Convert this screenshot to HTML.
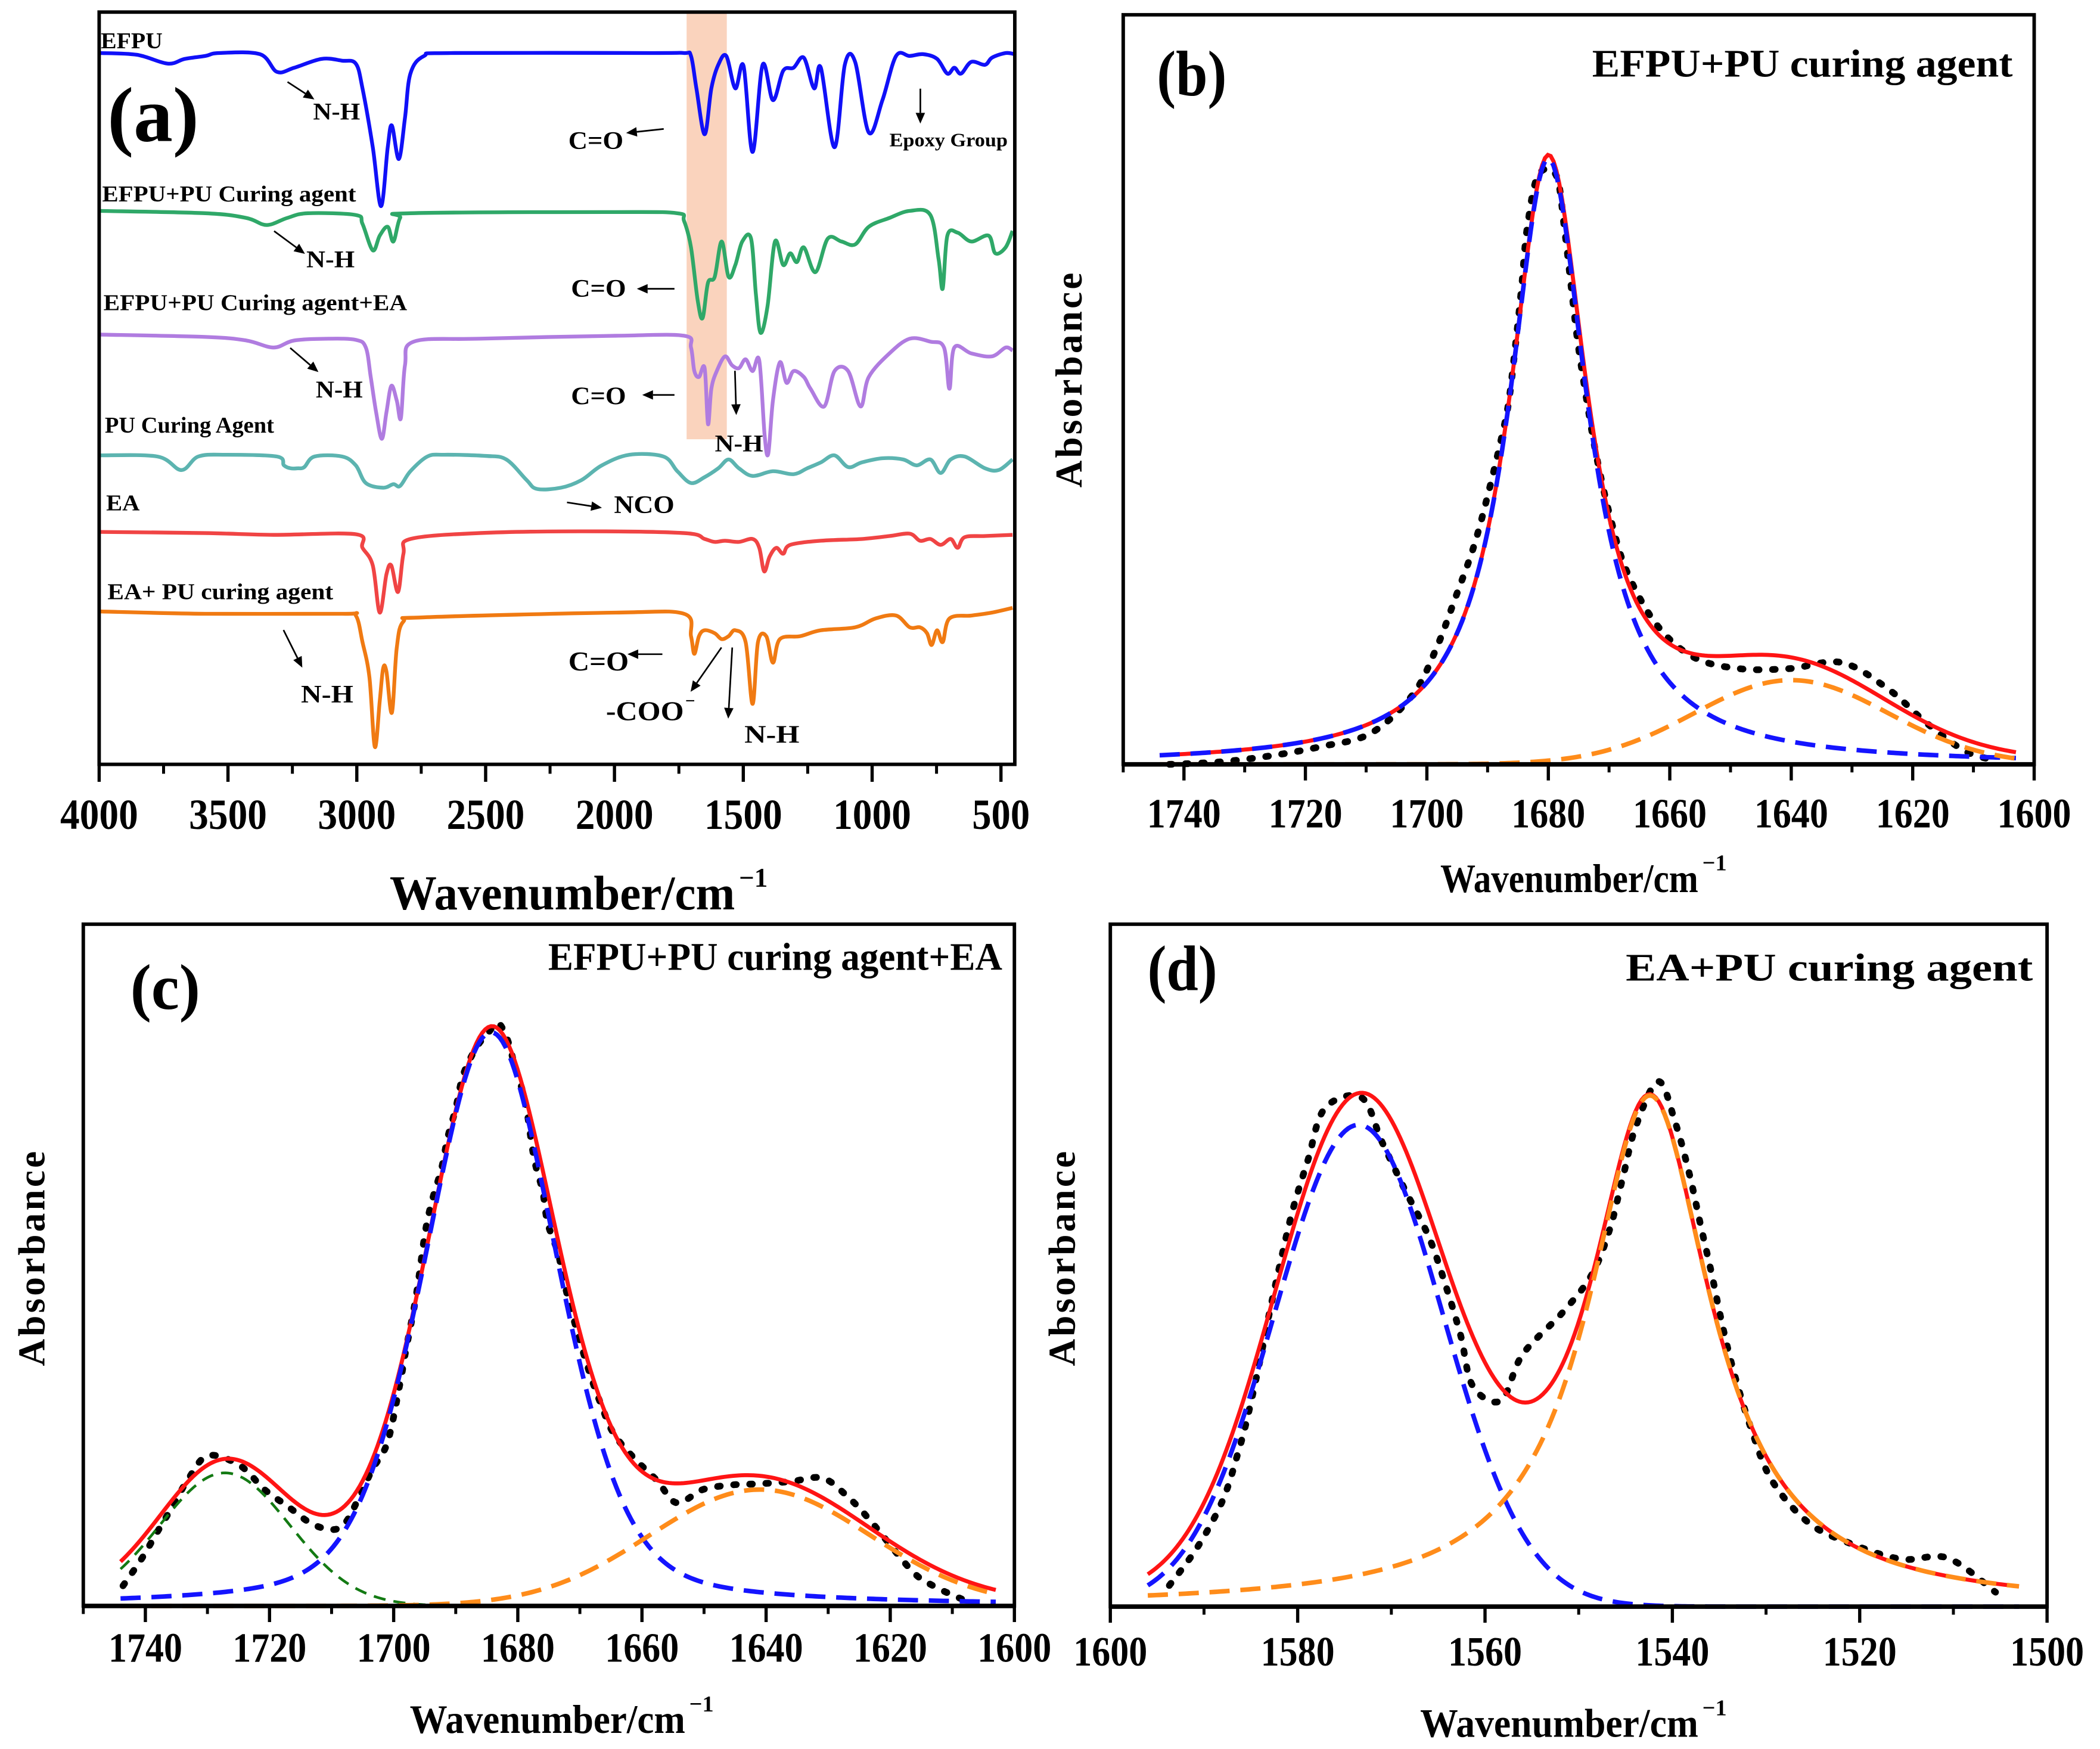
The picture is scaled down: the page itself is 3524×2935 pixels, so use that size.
<!DOCTYPE html>
<html><head><meta charset="utf-8">
<style>
html,body{margin:0;padding:0;background:#fff;}
svg{display:block}
text{font-family:"Liberation Serif","Times New Roman",serif;font-weight:bold;fill:#000}
</style></head>
<body>
<svg id="fig" xmlns="http://www.w3.org/2000/svg" width="3524" height="2935" viewBox="0 0 1563 1302" preserveAspectRatio="none"></svg>
<script>
// ---------- Panel (a) data: wavenumber (cm-1) and offset transmittance (a.u.) ----------
const efpuWn=[4000,3854,3734,3668,3588,3535,3376,3310,3243,3137,3057,3004,2978,2938,2906,2880,2864,2837,2813,2792,2739,2633,1863,1730,1703,1682,1650,1624,1597,1566,1531,1499,1464,1425,1385,1345,1305,1265,1225,1199,1146,1106,1066,1013,960,907,854,801,748,708,681,655,615,562,535,482,447];
const efpuT=[1210,1207,1192,1200,1205,1210,1208,1178,1185,1200,1197,1192,1150,1050,950,1050,1087,1030,1100,1175,1205,1210,1210,1210,1205,1150,1072,1150,1190,1205,1150,1188,1042,1190,1130,1180,1185,1202,1150,1185,1050,1190,1195,1075,1130,1205,1205,1208,1200,1175,1185,1175,1195,1190,1202,1210,1208];
const efpuPuWn=[4000,3588,3429,3350,3270,3190,3004,2978,2938,2911,2880,2858,2832,2792,1995,1756,1730,1703,1677,1658,1637,1611,1584,1557,1531,1504,1470,1451,1433,1406,1377,1345,1318,1292,1265,1220,1172,1119,1066,1013,933,854,774,742,726,708,668,615,548,522,482,455];
const efpuPuT=[942,938,930,918,930,938,935,920,875,900,915,890,930,938,940,938,925,880,790,760,820,830,890,830,850,890,895,800,735,780,890,850,870,855,880,838,895,890,885,915,930,942,935,860,810,900,905,890,900,870,880,908];
const efpuPuEaWn=[4000,3588,3429,3323,3243,3111,3004,2965,2946,2925,2903,2885,2866,2845,2829,2813,2779,2526,1995,1730,1703,1690,1672,1650,1637,1624,1603,1571,1544,1517,1491,1464,1438,1417,1403,1385,1358,1332,1305,1265,1239,1186,1146,1093,1045,1013,933,854,774,721,700,681,615,535,482,455];
const efpuPuEaT=[732,728,722,710,722,725,723,710,660,600,555,600,645,620,590,680,720,725,730,730,710,670,660,675,580,640,670,695,680,675,690,670,688,560,530,620,685,650,670,660,640,610,670,670,610,660,700,725,720,710,640,710,700,695,710,705];
const puWn=[4000,3774,3681,3615,3509,3310,3283,3257,3230,3204,3164,3057,3004,2965,2898,2858,2832,2792,2726,2659,2500,2420,2341,2301,2208,2128,2049,1942,1810,1756,1703,1650,1597,1557,1517,1464,1385,1305,1252,1199,1146,1093,1040,960,880,827,774,734,695,641,562,509,455];
const puT=[527,525,502,525,528,525,510,505,505,507,525,525,510,480,472,478,475,500,525,528,526,520,485,470,472,485,510,528,525,500,480,490,505,520,505,492,500,495,505,515,527,507,515,522,520,510,520,497,520,525,505,502,520];
const eaWn=[4000,3588,3323,3004,2978,2938,2911,2885,2866,2840,2819,2792,2526,2128,1730,1650,1611,1571,1517,1464,1438,1419,1398,1372,1345,1318,1199,1040,933,854,814,774,734,695,668,641,562,455];
const eaT=[397,395,392,393,370,340,260,325,340,295,360,385,395,398,395,385,380,382,380,385,370,330,355,370,360,375,382,385,390,394,382,385,375,385,370,388,390,392];
const eaPuWn=[4000,3588,3057,3004,2978,2951,2930,2911,2898,2885,2864,2845,2819,2739,1995,1730,1703,1690,1672,1650,1611,1584,1557,1531,1491,1464,1443,1411,1385,1358,1279,1199,1066,987,907,854,814,787,769,748,726,700,615,535,455];
const eaPuT=[262,258,258,255,210,150,32,110,165,160,90,200,245,252,260,258,220,190,220,230,225,215,220,230,210,105,210,220,175,215,220,230,235,250,255,235,235,225,205,230,210,250,255,260,268];
const aTickLabels=[4000,3500,3000,2500,2000,1500,1000,500];
const aMinorTicks=[3750,3250,2750,2250,1750,1250,750];

// ---------- Panel (b) ----------
const bPeakCenters=[1680,1640];
const bPeakHeights=[1.0,0.139];
const bPeakFwhm=[15.8,37.7];
const bPeakEta=[1,0];
const bExpWn=[1742.4,1734.1,1725.8,1717.6,1709.3,1702.4,1698.5,1695.3,1692.2,1689.7,1687.6,1686.5,1685.4,1684.4,1683.5,1681.7,1678.7,1677.3,1676.2,1675.1,1673.6,1672,1669.8,1667.1,1662.2,1656.1,1648.6,1640.3,1631.7,1624,1617.7,1611.4,1606.6];
const bExpAbs=[0.0,0.004,0.014,0.029,0.051,0.114,0.19,0.275,0.362,0.455,0.544,0.60,0.693,0.788,0.884,0.972,0.972,0.88,0.785,0.693,0.596,0.505,0.408,0.319,0.231,0.177,0.158,0.158,0.168,0.124,0.068,0.022,0.007];
const bTickLabels=[1740,1720,1700,1680,1660,1640,1620,1600];

// ---------- Panel (c) ----------
const cPeakCenters=[1727.2,1684.3,1641];
const cPeakHeights=[0.231,0.996,0.202];
const cPeakFwhm=[24.7,25.4,41.9];
const cPeakEta=[0,0.3,0];
const cExpWn=[1743.6,1740.6,1738.1,1735.5,1733.0,1729.9,1724.8,1720.8,1717.2,1712.7,1708.6,1705.8,1703.5,1701.0,1699.0,1698.1,1696.4,1694.9,1693.7,1692.3,1691.3,1690.0,1688.8,1686.7,1684.7,1683.2,1681.7,1680.4,1678.8,1677.4,1676.0,1675.2,1673.5,1672.5,1670.3,1668.2,1666.6,1664.6,1661.3,1657.6,1654.4,1650.2,1645.6,1641.2,1636.0,1630.9,1626.8,1623.2,1616.6,1613.1,1608.5];
const cExpAbs=[0.035,0.082,0.128,0.175,0.222,0.261,0.244,0.202,0.174,0.140,0.136,0.183,0.236,0.284,0.385,0.44,0.537,0.65,0.708,0.759,0.813,0.864,0.922,0.969,0.996,1.012,0.984,0.934,0.875,0.778,0.72,0.665,0.612,0.56,0.471,0.397,0.35,0.30,0.257,0.218,0.179,0.202,0.21,0.212,0.216,0.222,0.189,0.148,0.062,0.035,0.012];
const cTickLabels=[1740,1720,1700,1680,1660,1640,1620,1600];

// ---------- Panel (d) ----------
const dPeakCenters=[1573.5,1542.4];
const dPeakHeights=[0.933,0.99];
const dPeakFwhm=[21.2,16];
const dPeakEta=[0,1];
const dExpWn=[1593.7,1590.7,1588.0,1586.3,1585.3,1584.1,1583.0,1581.8,1580.5,1578.9,1577.1,1573.2,1571.0,1568.6,1566.0,1564.2,1562.6,1561.3,1558.3,1556.0,1551.7,1548.6,1546.7,1545.3,1543.9,1541.5,1539.7,1538.2,1537.0,1535.8,1534.6,1533.3,1531.6,1529.4,1525.5,1521.1,1515.6,1510.6,1505.5];
const dExpAbs=[0.041,0.115,0.206,0.302,0.371,0.470,0.57,0.67,0.77,0.865,0.965,0.986,0.90,0.809,0.716,0.622,0.525,0.427,0.399,0.488,0.57,0.643,0.73,0.83,0.93,1.017,0.938,0.839,0.74,0.644,0.54,0.445,0.345,0.245,0.163,0.123,0.092,0.094,0.028];
const dTickLabels=[1600,1580,1560,1540,1520,1500];

const NS='http://www.w3.org/2000/svg';
const svg=document.getElementById('fig');
function mk(tag,attrs,parent){const e=document.createElementNS(NS,tag);for(const k in attrs)e.setAttribute(k,attrs[k]);(parent||svg).appendChild(e);return e;}
function txt(str,attrs,parent){const e=mk('text',attrs,parent);e.textContent=str;return e;}
function pathFrom(xs,ys,fx,fy){let d='';const n=Math.min(xs.length,ys.length);for(let i=0;i<n;i++){d+=(i?'L':'M')+fx(xs[i]).toFixed(2)+' '+fy(ys[i]).toFixed(2);}return d;}
function smoothFrom(xs,ys,fx,fy){
 const n=Math.min(xs.length,ys.length);const P=[];for(let i=0;i<n;i++)P.push([fx(xs[i]),fy(ys[i])]);
 let d='M'+P[0][0].toFixed(2)+' '+P[0][1].toFixed(2);
 for(let i=0;i<n-1;i++){const p0=P[Math.max(0,i-1)],p1=P[i],p2=P[i+1],p3=P[Math.min(n-1,i+2)];
  const c1x=p1[0]+(p2[0]-p0[0])/6,c1y=p1[1]+(p2[1]-p0[1])/6,c2x=p2[0]-(p3[0]-p1[0])/6,c2y=p2[1]-(p3[1]-p1[1])/6;
  d+='C'+c1x.toFixed(2)+' '+c1y.toFixed(2)+' '+c2x.toFixed(2)+' '+c2y.toFixed(2)+' '+p2[0].toFixed(2)+' '+p2[1].toFixed(2);}
 return d;}
function pv(x,c,h,f,eta){const dx=x-c;const L=1/(1+Math.pow(dx/(f/2),2));const G=Math.exp(-4*Math.LN2*dx*dx/(f*f));return h*(eta*L+(1-eta)*G);}

// ================= Panel (a) =================
const xA=wn=>73.8+(4000-wn)*0.19177;
const yA=T=>(1300-T)*0.4385;
const gA=mk('g',{});


const shade=mk('rect',{x:xA(1720),y:9,width:xA(1564)-xA(1720),height:318,fill:'#fad3bd'},gA);


const aSeries=[
 ['efpu-spectrum',efpuWn,efpuT,'#1010f8'],
 ['efpu-pu-spectrum',efpuPuWn,efpuPuT,'#2fa868'],
 ['efpu-pu-ea-spectrum',efpuPuEaWn,efpuPuEaT,'#b07ce0'],
 ['pu-curing-agent-spectrum',puWn,puT,'#5cb4b0'],
 ['ea-spectrum',eaWn,eaT,'#f04444'],
 ['ea-pu-spectrum',eaPuWn,eaPuT,'#f07a12']
];
aSeries.forEach(s=>{
 const p=mk('path',{d:smoothFrom(s[1],s[2],xA,yA),fill:'none',stroke:s[3],'stroke-width':2.8,'stroke-linejoin':'round'},gA);
 
 
});
const boxA=mk('rect',{x:73.8,y:9,width:681.5,height:560,fill:'none',stroke:'#000','stroke-width':2.6},gA);


aTickLabels.forEach(v=>{
 const t=mk('line',{x1:xA(v),x2:xA(v),y1:569,y2:582,stroke:'#000','stroke-width':2.4},gA);
 
 
 const l=txt(String(v),{x:xA(v),y:617,'text-anchor':'middle','font-size':32,textLength:v>=1000?58:43,lengthAdjust:'spacingAndGlyphs'},gA);
 
 
});
aMinorTicks.forEach(v=>{
 const t=mk('line',{x1:xA(v),x2:xA(v),y1:569,y2:576,stroke:'#000','stroke-width':2.2},gA);
 
 
});
const aTitle=txt('Wavenumber/cm',{x:290,y:677,'font-size':36,textLength:257,lengthAdjust:'spacingAndGlyphs'},gA);


const aSup=txt('\u22121',{x:550,y:660,'font-size':20},gA);


const aLab=txt('(a)',{x:80,y:105,'font-size':58,textLength:68,lengthAdjust:'spacingAndGlyphs'},gA);


const aNames=[['EFPU',75,36,46,'efpu-label'],['EFPU+PU Curing agent',76,150,189,'efpu-pu-label'],['EFPU+PU Curing agent+EA',77,231,226,'efpu-pu-ea-label'],['PU Curing Agent',78,322,126,'pu-curing-agent-label'],['EA',79,380,25,'ea-label'],['EA+ PU curing agent',80,446,168,'ea-pu-label']];
aNames.forEach(n=>{
 const e=txt(n[0],{x:n[1],y:n[2],'font-size':17,textLength:n[3],lengthAdjust:'spacingAndGlyphs'},gA);
 
 
});
const annos=[['N-H',233,89,35,18],['C=O',423,111,41,19],['Epoxy Group',662,109,88,14],['N-H',228,199,36,18],['C=O',425,221,41,19],['N-H',235,296,35,18],['C=O',425,301,41,19],['N-H',532,336,36,18],['NCO',457,382,45,19],['N-H',224,523,39,19],['C=O',423,499,45,20],['N-H',554,553,41,19]];
annos.forEach(n=>{
 const e=txt(n[0],{x:n[1],y:n[2],'font-size':n[4],textLength:n[3],lengthAdjust:'spacingAndGlyphs'},gA);
 
 
});
const coo=txt('-COO',{x:451,y:536,'font-size':20,textLength:58,lengthAdjust:'spacingAndGlyphs'},gA);


const cooSup=txt('\u2212',{x:510,y:526,'font-size':13},gA);


function arrow(x1,y1,x2,y2){
 const g=mk('g',{},gA);
 
 
 const ang=Math.atan2(y2-y1,x2-x1),L=8,W=3.5;
 const bx=x2-L*Math.cos(ang),by=y2-L*Math.sin(ang);
 mk('line',{x1:x1,y1:y1,x2:bx,y2:by,stroke:'#000','stroke-width':1.2},g);
 const px=-Math.sin(ang)*W,py=Math.cos(ang)*W;
 mk('polygon',{points:`${x2},${y2} ${bx+px},${by+py} ${bx-px},${by-py}`,fill:'#000'},g);
}
arrow(214,61,234,74);arrow(494,96,466,99);arrow(685,66,685,92);
arrow(204,172,227,189);arrow(502,215,474,215);
arrow(216,259,237,277);arrow(502,294,478,294);arrow(547,276,548,309);
arrow(422,374,448,378);
arrow(211,469,225,497);arrow(493,487,467,487);arrow(537,482,514,515);arrow(545,482,542,535);

// ================= Fit panels =================
function fitPanel(cfg){
 const g=mk('g',{});
 
 
 const fx=cfg.fx,fy=cfg.fy;
 const ex=mk('path',{d:smoothFrom(cfg.expWn,cfg.expAbs,fx,fy),fill:'none',stroke:'#000','stroke-width':5,'stroke-dasharray':'2 10','stroke-linecap':'round'},g);
 
 
 const n=Math.min(cfg.centers.length,cfg.heights.length,cfg.fwhm.length,cfg.eta.length);
 let dSum='';const comps=[];for(let k=0;k<n;k++)comps.push('');
 for(let i=0;i<=300;i++){
  const wn=cfg.from+(cfg.to-cfg.from)*i/300;let s=0;
  for(let k=0;k<n;k++){const v=pv(wn,cfg.centers[k],cfg.heights[k],cfg.fwhm[k],cfg.eta[k]);s+=v;comps[k]+=(i?'L':'M')+fx(wn).toFixed(2)+' '+fy(v).toFixed(2);}
  dSum+=(i?'L':'M')+fx(wn).toFixed(2)+' '+fy(s).toFixed(2);
 }
 const red=mk('path',{d:dSum,fill:'none',stroke:'#ff1414','stroke-width':3},g);
 
 
 for(let k=0;k<n;k++){
  const st=cfg.styles[k];
  const c=mk('path',{d:comps[k],fill:'none',stroke:st[0],'stroke-width':st[1],'stroke-dasharray':st[2]},g);
  
  
 }
 const box=mk('rect',{x:cfg.x0,y:cfg.top,width:cfg.x1-cfg.x0,height:cfg.base-cfg.top,fill:'none',stroke:'#000','stroke-width':2.6},g);
 
 
 const ax=mk('line',{x1:cfg.x0,x2:cfg.x1,y1:cfg.base,y2:cfg.base,stroke:'#000','stroke-width':3.4},g);
 
 
 cfg.ticks.forEach(v=>{
  const t=mk('line',{x1:fx(v),x2:fx(v),y1:cfg.base,y2:cfg.base+12,stroke:'#000','stroke-width':2.4},g);
  
  
  const l=txt(String(v),{x:fx(v),y:cfg.labelY,'text-anchor':'middle','font-size':31,textLength:55,lengthAdjust:'spacingAndGlyphs'},g);
  
  
 });
 cfg.ticks.forEach(v=>{
  const m=v+cfg.minorStep;
  if(m<=cfg.maxWn&&m>=cfg.minWn){
   const t=mk('line',{x1:fx(m),x2:fx(m),y1:cfg.base,y2:cfg.base+6,stroke:'#000','stroke-width':2.2},g);
   
   
  }
 });
 const ti=txt('Wavenumber/cm',{x:cfg.titleX,y:cfg.titleY,'font-size':30,textLength:cfg.titleW,lengthAdjust:'spacingAndGlyphs'},g);
 
 
 const su=txt('\u22121',{x:cfg.titleX+cfg.titleW+3,y:cfg.titleY-16,'font-size':17},g);
 
 
 const ab=txt('Absorbance',{x:0,y:0,'font-size':28,'text-anchor':'middle',textLength:160,lengthAdjust:'spacing',transform:`translate(${cfg.absX},${cfg.absY}) rotate(-90)`},g);
 
 
 const pl=txt(cfg.letter,{x:cfg.letterX,y:cfg.letterY,'font-size':48,textLength:52,lengthAdjust:'spacingAndGlyphs'},g);
 
 
 const pt=txt(cfg.title,{x:cfg.titleR,y:cfg.ptY,'font-size':29,'text-anchor':'end',textLength:cfg.ptW,lengthAdjust:'spacingAndGlyphs'},g);
 
 
}
const blueSt=['#1414ff',3.4,'15 8'],orangeSt=['#ff8c1a',3.4,'15 8'],greenSt=['#137a13',2,'9 6'];
fitPanel({name:'panel-b',fx:wn=>836+(1750-wn)*4.52,fy:v=>569-v*451,x0:836,x1:1514,top:11,base:569,
 centers:bPeakCenters,heights:bPeakHeights,fwhm:bPeakFwhm,eta:bPeakEta,expWn:bExpWn,expAbs:bExpAbs,from:1744,to:1603,
 styles:[blueSt,orangeSt],ticks:bTickLabels,minorStep:10,maxWn:1750,minWn:1600,labelY:616,
 titleX:1072,titleY:664,titleW:192,absX:805,absY:283,letter:'(b)',letterX:861,letterY:71,title:'EFPU+PU curing agent',titleR:1498,ptY:57,ptW:313});
fitPanel({name:'panel-c',fx:wn=>62+(1750-wn)*4.62,fy:v=>1195.5-v*428.8,x0:62,x1:755,top:688,base:1195.5,
 centers:cPeakCenters,heights:cPeakHeights,fwhm:cPeakFwhm,eta:cPeakEta,expWn:cExpWn,expAbs:cExpAbs,from:1744,to:1603,
 styles:[greenSt,blueSt,orangeSt],ticks:cTickLabels,minorStep:10,maxWn:1750,minWn:1600,labelY:1237,
 titleX:305,titleY:1290,titleW:205,absX:33,absY:937,letter:'(c)',letterX:97,letterY:751,title:'EFPU+PU curing agent+EA',titleR:746,ptY:722,ptW:338});
fitPanel({name:'panel-d',fx:wn=>826.4+(1600-wn)*6.972,fy:v=>1196-v*384.4,x0:826.4,x1:1523.6,top:688,base:1196,
 centers:dPeakCenters,heights:dPeakHeights,fwhm:dPeakFwhm,eta:dPeakEta,expWn:dExpWn,expAbs:dExpAbs,from:1596,to:1503,
 styles:[blueSt,orangeSt],ticks:dTickLabels,minorStep:-10,maxWn:1600,minWn:1500,labelY:1240,
 titleX:1057,titleY:1293,titleW:207,absX:800,absY:937,letter:'(d)',letterX:854,letterY:737,title:'EA+PU curing agent',titleR:1513,ptY:730,ptW:303});
</script>
</body></html>
